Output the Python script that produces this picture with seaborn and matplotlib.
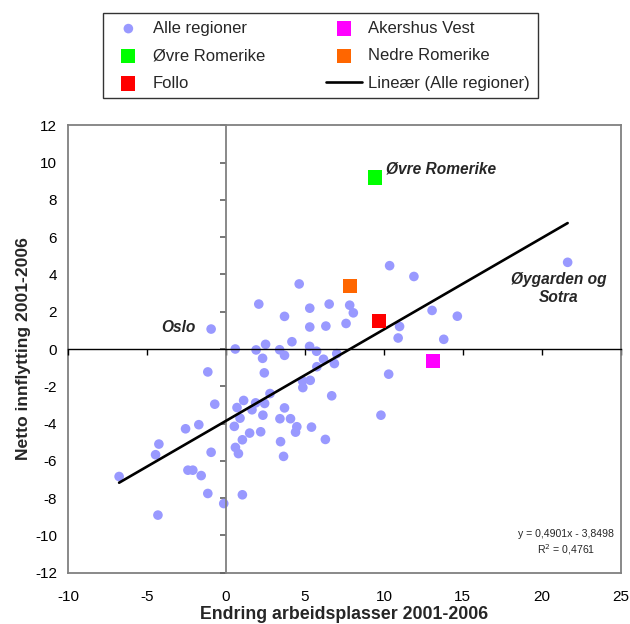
import matplotlib
matplotlib.use('Agg')
import matplotlib.pyplot as plt
import seaborn as sns
import pandas as pd

# Endring arbeidsplasser (x) og netto innflytting (y), 2001-2006
alle_x = [-0.95, 2.07, 0.58, 1.9, -1.16, -0.72, 1.11, 0.69, 1.87, 1.64,
          0.88, 0.52, -1.73, -2.57, 1.49, 1.03, 0.59, 0.78, -0.95, -4.26,
          -4.47, -2.42, -2.11, -1.58, -6.78, -1.16, 1.03, -0.15, -4.32, 10.36,
          11.9, 4.63, 5.3, 6.53, 7.83, 8.06, 3.7, 10.99, 5.3, 6.32,
          7.6, 10.9, 4.17, 2.5, 5.29, 3.39, 3.7, 5.73, 2.31, 7.01,
          6.17, 6.86, 5.75, 2.42, 10.3, 5.33, 4.84, 4.86, 2.78, 6.69,
          2.44, 3.7, 2.33, 9.81, 3.41, 4.08, 5.41, 4.48, 4.4, 2.19,
          3.45, 6.29, 3.64, 21.64, 13.05, 14.65, 13.79]
alle_y = [1.07, 2.41, 0.0, -0.05, -1.23, -2.96, -2.76, -3.14, -2.89, -3.26,
          -3.71, -4.15, -4.06, -4.28, -4.51, -4.87, -5.28, -5.61, -5.54, -5.1,
          -5.67, -6.5, -6.5, -6.79, -6.84, -7.75, -7.82, -8.29, -8.91, 4.47,
          3.89, 3.49, 2.19, 2.41, 2.35, 1.94, 1.75, 1.21, 1.18, 1.23,
          1.37, 0.59, 0.39, 0.25, 0.14, -0.04, -0.34, -0.12, -0.5, -0.25,
          -0.55, -0.78, -0.95, -1.28, -1.35, -1.68, -1.71, -2.07, -2.39, -2.51,
          -2.92, -3.16, -3.55, -3.55, -3.74, -3.74, -4.19, -4.17, -4.46, -4.44,
          -4.97, -4.85, -5.76, 4.65, 2.07, 1.76, 0.52]

regioner = ['Øvre Romerike', 'Follo', 'Akershus Vest', 'Nedre Romerike']
region_x = [9.45, 9.68, 13.12, 7.83]
region_y = [9.2, 1.5, -0.64, 3.37]
region_farger = ['#00FF00', '#FF0000', '#FF00FF', '#FF6600']

stigning, konstant = 0.4901, -3.8498
x_ticks = list(range(-10, 26, 5))
y_ticks = list(range(-12, 13, 2))

alle_df = pd.DataFrame({'x': alle_x, 'y': alle_y})
linje_x = [min(alle_x), max(alle_x)]
linje_df = pd.DataFrame({'x': linje_x, 'y': [stigning * v + konstant for v in linje_x]})

sns.set_theme(style='white')
plt.rcParams['font.family'] = ['Liberation Sans', 'DejaVu Sans']
plt.rcParams['axes.unicode_minus'] = False

fig = plt.figure(figsize=(6.3, 6.24), dpi=100)
ax = fig.add_axes([0.1084, 0.0822, 0.9852 - 0.1084, 0.7992 - 0.0822])

sns.scatterplot(data=alle_df, x='x', y='y', color='#9999FF', s=48,
                edgecolor='none', label='Alle regioner', ax=ax, zorder=2)
for navn, rx, ry, farge in zip(regioner, region_x, region_y, region_farger):
    sns.scatterplot(x=[rx], y=[ry], color=farge, marker='s', s=105,
                    edgecolor='none', label=navn, ax=ax, zorder=4)
sns.lineplot(data=linje_df, x='x', y='y', color='black', linewidth=1.9,
             label='Lineær (Alle regioner)', ax=ax, zorder=3)
if ax.get_legend() is not None:
    ax.get_legend().remove()

ax.set_xlim(-10, 25)
ax.set_ylim(-12, 12)
ax.set_xticks(x_ticks)
ax.set_yticks(y_ticks)
ax.set_xlabel('')
ax.set_ylabel('')

# Akser som krysser i null, med tick-merker men uten tall
ax.spines['left'].set_position(('data', 0))
ax.spines['bottom'].set_position(('data', 0))
ax.spines['left'].set_color('#808080')
ax.spines['left'].set_linewidth(1.3)
ax.spines['bottom'].set_color('black')
ax.spines['bottom'].set_linewidth(1.0)
for side in ['top', 'right']:
    ax.spines[side].set_color('#808080')
    ax.spines[side].set_linewidth(1.3)
ax.tick_params(axis='x', bottom=True, labelbottom=False, direction='out',
               length=4, width=1, colors='black')
ax.tick_params(axis='y', left=True, labelleft=False, direction='out',
               length=4, width=1.2, colors='#606060')

# Tall og ramme langs kanten
secx = ax.secondary_xaxis('bottom')
secx.set_xticks(x_ticks)
secx.tick_params(bottom=False, length=0, pad=12.5, labelsize=11, labelcolor='black')
secx.spines['bottom'].set_color('#808080')
secx.spines['bottom'].set_linewidth(1.3)
secx.set_xlabel('Endring arbeidsplasser 2001-2006', fontsize=12.8,
                fontweight='bold', labelpad=1.5)

secy = ax.secondary_yaxis('left')
secy.set_yticks(y_ticks)
secy.tick_params(left=False, length=0, pad=8, labelsize=11, labelcolor='black')
secy.spines['left'].set_color('#808080')
secy.spines['left'].set_linewidth(1.3)
secy.set_ylabel('Netto innflytting 2001-2006', fontsize=12.6,
                fontweight='bold', labelpad=3)

ax.text(10.1, 9.63, 'Øvre Romerike', fontsize=11.2, fontweight='bold',
        fontstyle='italic', ha='left', va='center')
ax.text(21.1, 3.26, 'Øygarden og\nSotra', fontsize=11.2, fontweight='bold',
        fontstyle='italic', ha='center', va='center', multialignment='center',
        linespacing=1.25)
ax.text(-1.96, 1.14, 'Oslo', fontsize=11.2, fontweight='bold',
        fontstyle='italic', ha='right', va='center')
ax.text(21.55, -10.4, 'y = 0,4901x - 3,8498\nR$^2$ = 0,4761', fontsize=7.6,
        ha='center', va='center', multialignment='center', linespacing=1.35)

handles, labels = ax.get_legend_handles_labels()
rekkefolge = ['Alle regioner', 'Øvre Romerike', 'Follo', 'Akershus Vest',
              'Nedre Romerike', 'Lineær (Alle regioner)']
h_dict = dict(zip(labels, handles))
leg = fig.legend([h_dict[l] for l in rekkefolge], rekkefolge, loc='center',
                 bbox_to_anchor=(0.508, 0.9103), ncol=2, fontsize=12,
                 frameon=True, fancybox=False, edgecolor='black',
                 handlelength=2.2, handletextpad=0.35, columnspacing=3.66,
                 labelspacing=0.75, borderpad=0.45, borderaxespad=0)
leg.get_frame().set_linewidth(1.0)

plt.savefig('out.png', dpi=100)
